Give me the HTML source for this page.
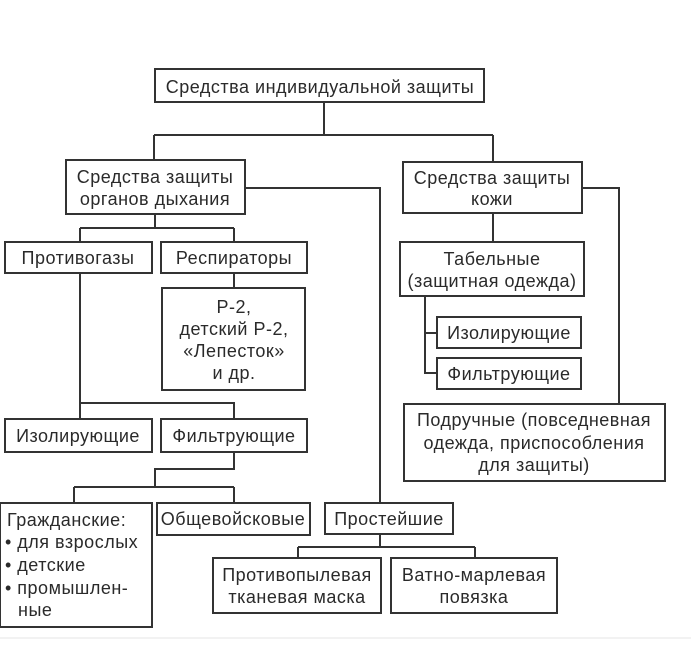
<!DOCTYPE html>
<html><head><meta charset="utf-8"><style>
html,body{margin:0;padding:0;background:#fff;}
svg{display:block}
text{font-family:"Liberation Sans",sans-serif;font-size:18px;letter-spacing:0.5px;fill:#2a2a2a;text-anchor:middle;}
</style></head><body>
<svg width="691" height="651" viewBox="0 0 691 651" xmlns="http://www.w3.org/2000/svg">
<g fill="none" stroke="#333" stroke-width="2">
<rect x="155" y="69" width="329" height="33"/>
<rect x="66" y="160" width="179" height="54"/>
<rect x="403" y="162" width="179" height="51"/>
<rect x="5" y="242" width="147" height="31"/>
<rect x="161" y="242" width="146" height="31"/>
<rect x="162" y="288" width="143" height="102"/>
<rect x="5" y="419" width="147" height="33"/>
<rect x="161" y="419" width="146" height="33"/>
<rect x="0" y="503" width="152" height="124"/>
<rect x="157" y="503" width="153" height="32"/>
<rect x="325" y="503" width="128" height="31"/>
<rect x="213" y="558" width="168" height="55"/>
<rect x="391" y="558" width="166" height="55"/>
<rect x="400" y="242" width="184" height="54"/>
<rect x="437" y="317" width="144" height="31"/>
<rect x="437" y="358" width="144" height="31"/>
<rect x="404" y="404" width="261" height="77"/>
<path d="M324 102V135M154 135H493M154 135V160M493 135V162"/>
<path d="M245 188H380V503"/>
<path d="M155 214V228M80 228H234M80 228V242M234 228V242"/>
<path d="M234 273V288"/>
<path d="M80 273V403H234V419M80 403V419"/>
<path d="M234 452V469H155V487M74 487H234M74 487V503M234 487V503"/>
<path d="M380 534V547M298 547H475M298 547V558M475 547V558"/>
<path d="M493 213V242"/>
<path d="M425 296V373H437M425 333H437"/>
<path d="M582 188H619V404"/>
</g>
<line x1="0" y1="638" x2="691" y2="638" stroke="#e6e6e6" stroke-width="1"/>
<text x="320" y="93">Средства индивидуальной защиты</text>
<text x="155" y="183">Средства защиты</text>
<text x="155" y="205">органов дыхания</text>
<text x="492" y="184">Средства защиты</text>
<text x="492" y="205">кожи</text>
<text x="78" y="264">Противогазы</text>
<text x="234" y="264">Респираторы</text>
<text x="234" y="313">Р-2,</text>
<text x="234" y="335">детский Р-2,</text>
<text x="234" y="357">«Лепесток»</text>
<text x="234" y="379">и др.</text>
<text x="78" y="442">Изолирующие</text>
<text x="234" y="442">Фильтрующие</text>
<text x="7" y="526" style="text-anchor:start">Гражданские:</text>
<text x="5" y="548" style="text-anchor:start">• для взрослых</text>
<text x="5" y="571" style="text-anchor:start">• детские</text>
<text x="5" y="594" style="text-anchor:start">• промышлен-</text>
<text x="18" y="616" style="text-anchor:start">ные</text>
<text x="233" y="525">Общевойсковые</text>
<text x="389" y="525">Простейшие</text>
<text x="297" y="581">Противопылевая</text>
<text x="297" y="603">тканевая маска</text>
<text x="474" y="581">Ватно-марлевая</text>
<text x="474" y="603">повязка</text>
<text x="492" y="265">Табельные</text>
<text x="492" y="287">(защитная одежда)</text>
<text x="509" y="339">Изолирующие</text>
<text x="509" y="380">Фильтрующие</text>
<text x="534" y="426">Подручные (повседневная</text>
<text x="534" y="449">одежда, приспособления</text>
<text x="534" y="471">для защиты)</text>
</svg>
</body></html>
